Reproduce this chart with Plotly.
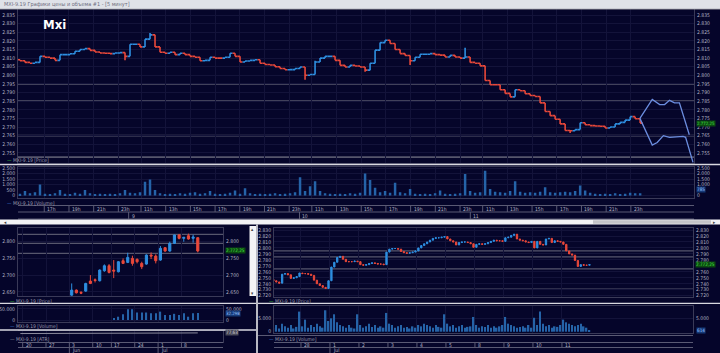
import plotly.graph_objects as go

W, H = 720, 353

# ---------------- main 5-minute panel (Jul 8 afternoon .. Jul 11) ----------------
MAIN_T0 = -8.8          # trading hours relative to Jul 9 10:00
MAIN_STEP = 0.405       # hours per plotted bar
main_close = [
    2808.5, 2807.5, 2807.0, 2807.5, 2811.0, 2810.5, 2810.0, 2808.7, 2812.0, 2812.0,
    2812.5, 2814.0, 2815.0, 2815.5, 2814.5, 2813.5, 2813.0, 2812.8, 2812.6, 2813.0,
    2813.2, 2811.0, 2818.0, 2818.0, 2816.5, 2821.0, 2823.5, 2816.5, 2813.4, 2812.8,
    2813.4, 2812.0, 2812.8, 2812.0, 2811.0, 2810.5, 2808.5, 2808.7, 2810.5, 2810.0,
    2810.0, 2810.5, 2812.8, 2811.0, 2807.7, 2808.3, 2808.7, 2809.0, 2807.0, 2806.3,
    2806.0, 2805.0, 2804.0, 2803.2, 2803.3, 2804.0, 2804.8, 2800.0, 2800.5, 2807.7,
    2810.0, 2811.0, 2811.0, 2808.7, 2805.8, 2804.8, 2805.8, 2805.4, 2804.8, 2803.0,
    2807.0, 2814.6, 2819.0, 2820.4, 2818.5, 2815.0, 2812.6, 2811.5, 2808.5, 2810.5,
    2812.2, 2812.2, 2812.6, 2812.0, 2811.7, 2810.6, 2811.6, 2810.6, 2810.0, 2810.6,
    2807.5, 2807.0, 2805.5, 2797.0, 2794.5, 2794.5, 2791.6, 2789.5, 2787.5, 2791.6,
    2791.0, 2789.3, 2788.3, 2787.7, 2784.0, 2779.0, 2776.6, 2774.5, 2771.8, 2768.0,
    2767.8, 2768.5, 2772.5, 2771.3, 2770.8, 2770.6, 2770.4, 2769.4, 2770.0, 2771.8,
    2772.7, 2774.0, 2776.0, 2774.8, 2772.25,
]
main_first_open = 2809.0
main_high_wicks = {26: 2824.5, 89: 2816.0, 59: 2808.5}
main_low_wicks = {21: 2808.7, 57: 2797.4, 69: 2802.0, 78: 2806.0, 110: 2766.5}
main_volume = [
    150, 400, 200, 300, 1000, 150, 100, 200, 500, 150,
    100, 250, 150, 500, 200, 100, 150, 100, 150, 100,
    200, 500, 250, 200, 300, 1250, 1450, 500, 200, 100,
    150, 100, 200, 150, 250, 300, 150, 200, 400, 150,
    100, 150, 250, 450, 150, 650, 200, 100, 150, 100,
    150, 200, 100, 150, 200, 300, 1650, 400, 850, 1300,
    400, 200, 150, 100, 150, 100, 200, 150, 250, 2000,
    1400, 700, 300, 400, 250, 1150, 300, 200, 600, 150,
    100, 150, 100, 200, 450, 150, 100, 150, 200, 1950,
    400, 250, 300, 2250, 600, 350, 300, 250, 400, 1300,
    350, 250, 300, 250, 350, 750, 300, 250, 300, 350,
    300, 400, 900, 450, 250, 150, 100, 150, 100, 200,
    100, 150, 250, 200, 200,
]
main_levels = [2795, 2785, 2765, 2752.5]
proj_up_t = [41.4, 42.4, 43.0, 43.4, 43.8, 44.2, 44.6, 45.4]
proj_up_p = [2775, 2786, 2783, 2783, 2785.5, 2784, 2784, 2765.5]
proj_dn_t = [41.4, 42.4, 42.8, 43.3, 43.8, 44.2, 44.9, 45.1, 45.7]
proj_dn_p = [2775, 2759.5, 2761, 2765, 2764, 2764.3, 2764.5, 2764, 2749.5]
hour_pos = [-6.833, -4.833, -2.833, -0.833,
            1, 3, 5, 7, 9, 11, 13,
            14.833, 16.833, 18.833, 20.833, 22.833, 24.833, 26.833,
            28.667, 30.667, 32.667, 34.667, 36.667, 38.667, 40.667]
hour_lbl = ['17h', '19h', '21h', '23h',
            '11h', '13h', '15h', '17h', '19h', '21h', '23h',
            '11h', '13h', '15h', '17h', '19h', '21h', '23h',
            '11h', '13h', '15h', '17h', '19h', '21h', '23h']
day_pos = [0, 13.833, 27.667]
day_lbl = ['9', '10', '11']
MAIN_LAST = 2772.25
MAIN_LAST_VOL = 785

# ---------------- bottom-left daily panel ----------------
d_dates = ['03.06', '04.06', '05.06', '06.06', '07.06', '10.06', '11.06', '13.06', '14.06',
           '17.06', '18.06', '19.06', '20.06', '21.06', '24.06', '25.06', '26.06', '27.06',
           '28.06', '01.07', '02.07', '03.07', '04.07', '05.07', '08.07', '09.07', '10.07', '11.07']
d_open = [2640, 2655, 2648, 2652, 2682, 2686, 2683, 2713, 2728, 2715, 2710, 2743, 2738, 2750,
          2747, 2735, 2733, 2760, 2757, 2745, 2782, 2772, 2795, 2820, 2810, 2818, 2810, 2812]
d_high = [2675, 2657, 2652, 2677, 2700, 2690, 2717, 2732, 2733, 2745, 2742, 2750, 2767, 2758,
          2750, 2740, 2762, 2768, 2762, 2787, 2784, 2800, 2821, 2823, 2814, 2824, 2821, 2813]
d_low = [2638, 2645, 2643, 2650, 2673, 2678, 2681, 2710, 2705, 2691, 2708, 2733, 2736, 2728,
         2735, 2718, 2731, 2748, 2735, 2743, 2770, 2770, 2793, 2807, 2800, 2806, 2797, 2768]
d_close = [2655, 2647, 2646, 2675, 2675, 2684, 2715, 2728, 2708, 2712, 2740, 2735, 2753, 2735,
           2740, 2725, 2760, 2757, 2743, 2780, 2772, 2795, 2820, 2810, 2813, 2808, 2814, 2772.25]
d_volume = [0, 0, 0, 0, 0, 0, 0, 0, 0, 7000, 15000, 26000, 49000, 49000, 34000, 34000, 34000,
            31000, 31000, 38000, 23000, 23000, 28000, 23000, 31000, 15000, 31000, 32298]
d_levels = [2822, 2795, 2765]
atr_start = -11
atr_values = [72.1, 72.4, 72.0, 72.6, 73.0, 72.8, 73.3, 73.6, 73.2, 73.9, 74.2,
              74.6, 74.3, 74.0, 74.8, 75.6, 75.2, 76.0, 76.3, 75.8, 76.4,
              76.9, 76.5, 76.2, 76.8, 77.4, 77.0, 76.7, 77.2, 77.5, 77.9,
              77.4, 77.1, 77.6, 77.9, 77.3, 77.5, 77.8, 77.63]
week_pos = [-10.5, -5.5, -0.5, 4.5, 8.5, 13.5, 18.5, 23.5]
week_lbl = ['20', '27', '3', '10', '17', '24', '1', '8']
month_pos = [-0.5, 18.5]
month_lbl = ['Jun', 'Jul']

# ---------------- bottom-right hourly panel (Jun 27 .. Jul 11) ----------------
BR_PER_DAY = 10
br_close = [
    2745, 2743, 2741, 2756, 2757, 2755, 2749, 2750, 2752, 2758,   # Jun 27
    2757, 2757, 2756, 2754, 2746, 2740, 2737, 2734, 2732, 2745,   # Jun 28
    2768, 2776, 2784, 2786, 2781, 2777, 2777, 2777, 2778, 2777,   # Jul 1
    2772, 2771, 2772, 2774, 2775, 2774, 2773, 2773, 2772, 2793,   # Jul 2
    2798, 2799, 2799, 2798, 2794, 2792, 2791, 2792, 2793, 2795,   # Jul 3
    2800, 2804, 2807, 2810, 2813, 2816, 2817, 2817, 2818, 2819,   # Jul 4
    2815, 2812, 2810, 2805, 2809, 2810, 2810, 2809, 2807, 2801,   # Jul 5
    2806, 2807, 2806, 2807, 2809, 2811, 2813, 2812, 2812, 2811,   # Jul 8
    2817, 2818, 2821, 2823, 2815, 2813, 2812, 2810, 2809, 2811,   # Jul 9
    2800, 2811, 2806, 2805, 2815, 2816, 2809, 2812, 2811, 2810,   # Jul 10
    2806, 2795, 2790, 2788, 2779, 2769, 2772, 2771, 2771, 2772.25,  # Jul 11
]
br_first_open = 2747
br_volume = [
    1500, 2500, 1200, 3000, 2000, 1500, 2500, 1200, 1800, 7500,
    2000, 4500, 1500, 2500, 1800, 3000, 2000, 1500, 8000, 4000,
    5000, 6500, 3500, 2500, 2000, 1500, 2500, 1500, 1200, 6500,
    2500, 1500, 2000, 3000, 1800, 2500, 1500, 2000, 1500, 7000,
    3000, 2500, 1500, 2000, 2500, 1500, 1800, 1200, 2000, 1500,
    2500, 2000, 3000, 2500, 2000, 1500, 2500, 1800, 1500, 6500,
    3000, 2000, 2500, 1500, 2000, 2500, 1500, 1800, 2000, 5500,
    2500, 1500, 2000, 1800, 2500, 1500, 2000, 1500, 2000, 2500,
    5500, 3000, 2500, 2000, 1500, 1800, 2000, 1500, 2500, 1500,
    5200, 2500, 7500, 3000, 2000, 2500, 1500, 2000, 1800, 2500,
    4500, 3500, 3000, 2500, 2000, 2500, 3000, 2000, 1500, 614,
]
br_levels = [2795, 2785, 2765, 2731]
br_day_pos = [1, 2, 3, 4, 5, 6, 7, 8, 9, 10]
br_day_lbl = ['28', '1', '2', '3', '4', '5', '8', '9', '10', '11']
br_month_pos = [2]
br_month_lbl = ['Jul']

# ---------------- style ----------------
BG = '#05052a'
GRID = '#13133a'
AXLINE = '#3a3a58'
LEVEL = '#56566c'
TXT = '#b4b4c4'
BLUE = '#2e8fe0'
RED = '#e8483a'
VOLC = '#2563a8'
FONT = 'Liberation Sans Narrow, DejaVu Sans Condensed, Liberation Sans, sans-serif'
FS = 5


def px(x):
    return x / W


def py(y):
    return 1 - y / H


def build_ohlc(closes, first_open, hi_w=None, lo_w=None):
    opens = [first_open] + closes[:-1]
    highs = [max(o, c) for o, c in zip(opens, closes)]
    lows = [min(o, c) for o, c in zip(opens, closes)]
    for k, v in (hi_w or {}).items():
        highs[k] = v
    for k, v in (lo_w or {}).items():
        lows[k] = v
    return opens, highs, lows


def eu(v, dec=0):
    s = f"{v:,.{dec}f}"
    return s.replace(',', ' ').replace('.', ',').replace(' ', '.')


fig = go.Figure()

candle_style = dict(
    increasing=dict(line=dict(color=BLUE, width=1), fillcolor=BLUE),
    decreasing=dict(line=dict(color=RED, width=1), fillcolor=RED),
    whiskerwidth=0, showlegend=False, hoverinfo='skip',
)

# main price: dense 5-minute bars drawn as thin OHLC strokes
main_t = [MAIN_T0 + MAIN_STEP * i for i in range(len(main_close))]
mo, mh, ml = build_ohlc(main_close, main_first_open, main_high_wicks, main_low_wicks)
fig.add_trace(go.Ohlc(x=main_t, open=mo, high=mh, low=ml, close=main_close, tickwidth=0.5,
                      increasing=dict(line=dict(color=BLUE, width=1.6)),
                      decreasing=dict(line=dict(color=RED, width=1.6)),
                      xaxis='x', yaxis='y', showlegend=False, hoverinfo='skip'))
fig.add_trace(go.Scatter(x=proj_up_t, y=proj_up_p, mode='lines', xaxis='x', yaxis='y',
                         line=dict(color='#6c8ee0', width=1.3), showlegend=False, hoverinfo='skip'))
fig.add_trace(go.Scatter(x=proj_dn_t, y=proj_dn_p, mode='lines', xaxis='x', yaxis='y',
                         line=dict(color='#6c8ee0', width=1.3), showlegend=False, hoverinfo='skip'))
fig.add_trace(go.Scatter(x=[main_t[0]], y=[main_close[0]], mode='markers', xaxis='x', yaxis='y2',
                         marker=dict(opacity=0), showlegend=False, hoverinfo='skip'))
# main volume
fig.add_trace(go.Bar(x=main_t, y=main_volume, width=0.2, marker=dict(color=VOLC, line=dict(width=0)),
                     xaxis='x2', yaxis='y3', showlegend=False, hoverinfo='skip'))
fig.add_trace(go.Scatter(x=[main_t[0]], y=[0], mode='markers', xaxis='x2', yaxis='y4',
                         marker=dict(opacity=0), showlegend=False, hoverinfo='skip'))

# bottom-left daily
d_idx = list(range(len(d_close)))
fig.add_trace(go.Candlestick(x=d_idx, open=d_open, high=d_high, low=d_low, close=d_close,
                             xaxis='x3', yaxis='y5', **candle_style))
fig.add_trace(go.Scatter(x=[0], y=[d_close[0]], mode='markers', xaxis='x3', yaxis='y6',
                         marker=dict(opacity=0), showlegend=False, hoverinfo='skip'))
fig.add_trace(go.Bar(x=d_idx, y=d_volume, width=0.3, marker=dict(color=VOLC, line=dict(width=0)),
                     xaxis='x4', yaxis='y7', showlegend=False, hoverinfo='skip'))
fig.add_trace(go.Scatter(x=[0], y=[0], mode='markers', xaxis='x4', yaxis='y8',
                         marker=dict(opacity=0), showlegend=False, hoverinfo='skip'))
atr_x = [atr_start + i for i in range(len(atr_values))]
fig.add_trace(go.Scatter(x=atr_x, y=atr_values, mode='lines', xaxis='x5', yaxis='y9',
                         line=dict(color='#8a8a9c', width=1), showlegend=False, hoverinfo='skip'))

# bottom-right hourly
br_t = [(i + 0.5) / BR_PER_DAY for i in range(len(br_close))]
bo, bh, bl = build_ohlc(br_close, br_first_open)
fig.add_trace(go.Candlestick(x=br_t, open=bo, high=bh, low=bl, close=br_close,
                             xaxis='x6', yaxis='y10', **candle_style))
fig.add_trace(go.Scatter(x=[br_t[0]], y=[br_close[0]], mode='markers', xaxis='x6', yaxis='y11',
                         marker=dict(opacity=0), showlegend=False, hoverinfo='skip'))
fig.add_trace(go.Bar(x=br_t, y=br_volume, width=0.05, marker=dict(color=VOLC, line=dict(width=0)),
                     xaxis='x7', yaxis='y12', showlegend=False, hoverinfo='skip'))
fig.add_trace(go.Scatter(x=[br_t[0]], y=[0], mode='markers', xaxis='x7', yaxis='y13',
                         marker=dict(opacity=0), showlegend=False, hoverinfo='skip'))

tickfont = dict(family=FONT, size=FS, color=TXT)


def xax(dom, rng, anchor, grid_vals):
    return dict(domain=dom, range=rng, anchor=anchor, showticklabels=False, ticks='',
                tickvals=grid_vals, showgrid=True, gridcolor=GRID, gridwidth=1,
                zeroline=False, showline=True, mirror=True, linecolor=AXLINE, linewidth=1,
                rangeslider=dict(visible=False), automargin=False, fixedrange=True)


def yax(dom, rng, anchor, vals, side, overlay=None, fmt=',d', grid=True, labels=True):
    d = dict(range=rng, anchor=anchor, side=side, tickvals=vals, tickformat=fmt,
             tickfont=tickfont, ticks='', showgrid=grid, gridcolor=GRID, zeroline=False,
             showline=True, linecolor=AXLINE, linewidth=1, automargin=False,
             showticklabels=labels, ticklabelstandoff=1, fixedrange=True)
    if overlay:
        d['overlaying'] = overlay
        d['showgrid'] = False
    else:
        d['domain'] = dom
    return d


MX = [px(18), px(694)]
MRANGE = [-8.96, 45.78]
main_ticks = list(range(2755, 2836, 5))
BLX = [px(18), px(223)]
BLRANGE = [-11.5, 32.4]
BRX = [px(274), px(693)]
BRRANGE = [0.07, 14.52]
br_ticks = list(range(2720, 2831, 10))
br_ticks_right = [v for v in br_ticks if v != 2770]

layout = dict(
    width=W, height=H, margin=dict(l=0, r=0, t=0, b=0), template='none',
    paper_bgcolor=BG, plot_bgcolor=BG, separators=',.', showlegend=False,
    font=dict(family=FONT, size=FS, color=TXT), boxgap=0.35,
    xaxis=xax(MX, MRANGE, 'y', hour_pos),
    yaxis=yax([py(163), py(9)], [2749.1, 2838.5], 'x', main_ticks, 'right'),
    yaxis2=yax(None, [2749.1, 2838.5], 'x', main_ticks, 'left', overlay='y'),
    xaxis2=xax(MX, MRANGE, 'y3', hour_pos),
    yaxis3=yax([py(197.5), py(167)], [-185, 2593], 'x2', [0, 1000, 1500, 2000, 2500], 'right'),
    yaxis4=yax(None, [-185, 2593], 'x2', [0, 500, 1000, 1500, 2000, 2500], 'left', overlay='y3'),
    xaxis3=xax(BLX, BLRANGE, 'y5', week_pos),
    yaxis5=yax([py(296), py(228)], [2637.4, 2841], 'x3', [2650, 2700, 2750, 2800], 'right'),
    yaxis6=yax(None, [2637.4, 2841], 'x3', [2650, 2700, 2750, 2800], 'left', overlay='y5'),
    xaxis4=xax(BLX, BLRANGE, 'y7', week_pos),
    yaxis7=yax([py(322), py(306)], [-9100, 63600], 'x4', [0, 50000], 'right'),
    yaxis8=yax(None, [-9100, 63600], 'x4', [0, 50000], 'left', overlay='y7'),
    xaxis5=xax(BLX, BLRANGE, 'y9', week_pos),
    yaxis9=yax([py(342), py(331)], [0, 94], 'x5', [], 'right', grid=False, labels=False),
    xaxis6=xax(BRX, BRRANGE, 'y10', br_day_pos),
    yaxis10=yax([py(297), py(228)], [2717.8, 2833.4], 'x6', br_ticks_right, 'right'),
    yaxis11=yax(None, [2717.8, 2833.4], 'x6', br_ticks, 'left', overlay='y10'),
    xaxis7=xax(BRX, BRRANGE, 'y12', br_day_pos),
    yaxis12=yax([py(333), py(306)], [-485, 9590], 'x7', [5000], 'right'),
    yaxis13=yax(None, [-485, 9590], 'x7', [0, 5000], 'left', overlay='y12'),
)

shapes = []
ann = []


def pline(x0, y0, x1, y1, color, width=1):
    shapes.append(dict(type='line', xref='paper', yref='paper', x0=px(x0), x1=px(x1),
                       y0=py(y0), y1=py(y1), line=dict(color=color, width=width), layer='above'))


def prect(x0, y0, x1, y1, fill, line=None):
    shapes.append(dict(type='rect', xref='paper', yref='paper', x0=px(x0), x1=px(x1),
                       y0=py(y1), y1=py(y0), fillcolor=fill,
                       line=dict(width=0 if line is None else 1, color=line or fill), layer='above'))


def text(x, y, s, size=FS, color=TXT, xanchor='left', xref='paper', yref='paper', **kw):
    ann.append(dict(x=x, y=y, xref=xref, yref=yref, text=s, showarrow=False,
                    xanchor=xanchor, yanchor='middle',
                    font=dict(family=FONT, size=size, color=color), **kw))


# horizontal level lines
for lv in main_levels:
    shapes.append(dict(type='line', xref='x domain', yref='y', x0=0, x1=1, y0=lv, y1=lv,
                       line=dict(color=LEVEL, width=1.6), layer='below'))
for lv in d_levels:
    shapes.append(dict(type='line', xref='x3 domain', yref='y5', x0=0, x1=1, y0=lv, y1=lv,
                       line=dict(color=LEVEL, width=1.4), layer='below'))
for lv in br_levels:
    shapes.append(dict(type='line', xref='x6 domain', yref='y10', x0=0, x1=1, y0=lv, y1=lv,
                       line=dict(color=LEVEL, width=1.4), layer='below'))

# title bar
prect(0, 0, 720, 9, '#dfe2e8')
pline(0, 9.2, 720, 9.2, '#8a8a96', 0.8)
text(px(2), py(4.6), 'MXI-9.19 Графики цены и объема #1 - [5 минут]', size=5.5, color='#6e6e7e')
text(px(54.5), py(24.5), '<b>Mxi</b>', size=13, color='#ffffff', xanchor='center')

# main time axis rows
TA = '#5a5a74'
pline(18, 205.5, 694, 205.5, TA)
pline(18, 212, 694, 212, TA)
pline(18, 219, 694, 219, TA)
for h, lab in zip(hour_pos, hour_lbl):
    shapes.append(dict(type='line', xref='x2', yref='paper', x0=h, x1=h, y0=py(205.5), y1=py(212),
                       line=dict(color=TA, width=1)))
    text(h, py(208.9), lab, xref='x2', xshift=1)
for d, lab in zip(day_pos, day_lbl):
    shapes.append(dict(type='line', xref='x2', yref='paper', x0=d, x1=d, y0=py(212), y1=py(219),
                       line=dict(color=TA, width=1)))
    text(d, py(215.6), lab, xref='x2', xshift=1)

# separators & scrollbars
pline(0, 164.5, 720, 164.5, '#d8d8e0', 1.5)
prect(0, 219.5, 720, 224.5, '#f2f2f4')
prect(593, 220.3, 711, 223.7, '#c4c4c8')
text(px(2), py(222), '◂', size=5, color='#404040')
text(px(718), py(222), '▸', size=5, color='#404040', xanchor='right')
prect(249.5, 226, 256, 296, '#f4f4f6')
text(px(252.7), py(229), '▴', size=5, color='#404040', xanchor='center')
text(px(252.7), py(293), '▾', size=5, color='#404040', xanchor='center')
pline(257, 224.5, 257, 353, '#e6e6ea', 1.6)
pline(0, 303.3, 256, 303.3, '#d8d8e0', 1.3)
pline(0, 330, 256, 330, '#d8d8e0', 1.3)
pline(258, 303.3, 720, 303.3, '#d8d8e0', 1.3)
pline(258, 335.5, 693, 335.5, TA, 1)

# bottom-left date axis
pline(18, 342.5, 223, 342.5, TA)
pline(18, 347.5, 223, 347.5, TA)
for p, lab in zip(week_pos, week_lbl):
    shapes.append(dict(type='line', xref='x3', yref='paper', x0=p, x1=p, y0=py(342.5), y1=py(347.5),
                       line=dict(color=TA, width=1)))
    text(p, py(345.2), lab, xref='x3', xshift=1)
for p, lab in zip(month_pos, month_lbl):
    shapes.append(dict(type='line', xref='x3', yref='paper', x0=p, x1=p, y0=py(347.5), y1=py(353),
                       line=dict(color=TA, width=1)))
    text(p, py(350.3), lab, xref='x3', xshift=1)

# bottom-right date axis
pline(274, 342.5, 693, 342.5, TA)
pline(274, 347.5, 693, 347.5, TA)
for p, lab in zip(br_day_pos, br_day_lbl):
    shapes.append(dict(type='line', xref='x6', yref='paper', x0=p, x1=p, y0=py(342.5), y1=py(347.5),
                       line=dict(color=TA, width=1)))
    text(p, py(345.2), lab, xref='x6', xshift=1)
for p, lab in zip(br_month_pos, br_month_lbl):
    shapes.append(dict(type='line', xref='x6', yref='paper', x0=p, x1=p, y0=py(347.5), y1=py(353),
                       line=dict(color=TA, width=1)))
    text(p, py(350.3), lab, xref='x6', xshift=1)

# legends
LEG = '#9a9aae'
text(px(5), py(160.2), "<span style='color:#35c435'>—</span> MXI-9.19 [Price]", color=LEG)
text(px(5), py(202.5), "<span style='color:#3a7ad0'>—</span> MXI-9.19 [Volume]", color=LEG)
text(px(8), py(300.5), "<span style='color:#35c435'>—</span> MXI-9.19 [Price]", color=LEG)
text(px(8), py(326), "<span style='color:#3a7ad0'>—</span> MXI-9.19 [Volume]", color=LEG)
text(px(8), py(338.8), "<span style='color:#8a8a9c'>—</span> MXI-9.19 [ATR]", color=LEG)
text(px(267), py(300.8), "<span style='color:#35c435'>—</span> MXI-9.19 [Price]", color=LEG)
text(px(267), py(339), "<span style='color:#3a7ad0'>—</span> MXI-9.19 [Volume]", color=LEG)

# current value labels
GREEN_BG = '#0c4a12'
GREEN_TX = '#44e044'
text(px(695.5), MAIN_LAST, eu(MAIN_LAST, 2), size=4.4, color=GREEN_TX, yref='y', bgcolor=GREEN_BG,
     borderpad=0)
text(px(224.5), d_close[-1], eu(d_close[-1], 2), size=4.6, color=GREEN_TX, yref='y5', bgcolor=GREEN_BG,
     borderpad=0)
text(px(695), br_close[-1], eu(br_close[-1], 2), size=4.6, color=GREEN_TX, yref='y10', bgcolor=GREEN_BG,
     borderpad=0)
text(px(696), 500, eu(MAIN_LAST_VOL), size=4.6, color='#9cc4ff', yref='y3', bgcolor='#163a78',
     borderpad=0)
text(px(224.5), d_volume[-1], eu(d_volume[-1]), size=4.4, color='#9cc4ff', yref='y7', bgcolor='#163a78',
     borderpad=0, yshift=-1)
text(px(696), br_volume[-1], eu(br_volume[-1]), size=4.6, color='#9cc4ff', yref='y12', bgcolor='#163a78',
     borderpad=0)
text(px(224.5), atr_values[-1], eu(atr_values[-1], 2), size=4.6, color='#d0d0d8', yref='y9',
     bgcolor='#4a4a5a', borderpad=0)

layout['shapes'] = shapes
layout['annotations'] = ann
fig.update_layout(**layout)
fig.write_html('out.html')
